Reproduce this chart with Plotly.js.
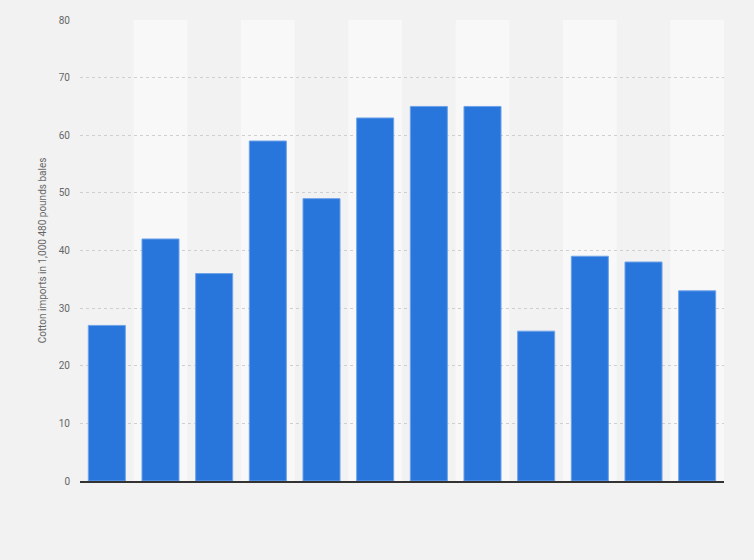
<!DOCTYPE html>
<html>
<head>
<meta charset="utf-8">
<script src="https://cdn.plot.ly/plotly-3.0.1.min.js"></script>
<style>
  html, body { margin: 0; padding: 0; background: #f2f2f2; }
  #graph { width: 754px; height: 560px; }
</style>
</head>
<body>
<div id="graph"></div>
<script>
// Cotton imports, 12 periods (x labels hidden in the source picture)
const periods = ['2008', '2009', '2010', '2011', '2012', '2013', '2014', '2015', '2016', '2017', '2018', '2019'];
const imports = [27, 42, 36, 59, 49, 63, 65, 65, 26, 39, 38, 33];
const yTicks = [0, 10, 20, 30, 40, 50, 60, 70, 80];

// light stripes behind every second column
const bands = [];
periods.forEach(function (p, i) {
    if (i % 2 === 1) {
        bands.push({
            type: 'rect', xref: 'x', yref: 'paper', layer: 'below',
            x0: i - 0.5, x1: i + 0.5, y0: 0, y1: 1,
            fillcolor: '#f8f8f8', line: {width: 0}
        });
    }
});

const trace = {
    x: periods,
    y: imports,
    type: 'bar',
    marker: {color: '#2876dc', line: {color: '#6ea2e8', width: 1}},
    hoverinfo: 'y'
};

const layout = {
    width: 754,
    height: 560,
    paper_bgcolor: '#f2f2f2',
    plot_bgcolor: '#f2f2f2',
    margin: {l: 80, r: 30, t: 20, b: 79},
    bargap: 0.31,
    showlegend: false,
    font: {family: 'Roboto, Arial, sans-serif', size: 10, color: '#666'},
    shapes: bands,
    xaxis: {
        type: 'category',
        showticklabels: false,
        showgrid: false,
        showline: true,
        linecolor: '#333',
        linewidth: 1.5,
        ticks: '',
        range: [-0.5, periods.length - 0.5]
    },
    yaxis: {
        range: [0, 80],
        tickvals: yTicks,
        ticktext: yTicks.map(String),
        showgrid: true,
        gridcolor: '#cfcfcf',
        griddash: 'dot',
        gridwidth: 1,
        zeroline: false,
        ticks: 'outside',
        ticklen: 7,
        tickcolor: 'rgba(0,0,0,0)',
        tickfont: {size: 10, color: '#666'},
        title: {
            text: 'Cotton imports in 1,000 480 pounds bales',
            font: {size: 10, color: '#666'},
            standoff: 10
        }
    }
};

Plotly.newPlot('graph', [trace], layout, {displayModeBar: false, staticPlot: true});
</script>
</body>
</html>
